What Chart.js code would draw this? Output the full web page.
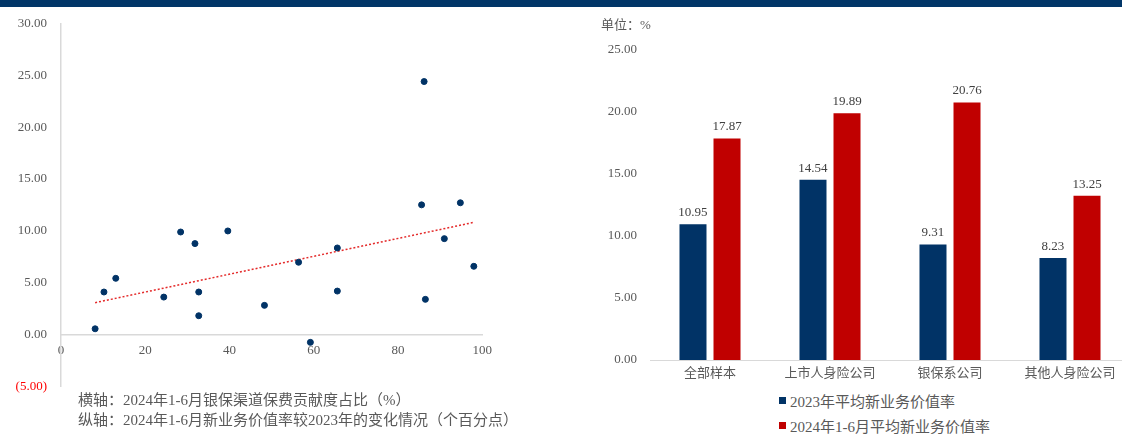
<!DOCTYPE html>
<html>
<head>
<meta charset="utf-8">
<script src="https://cdn.jsdelivr.net/npm/chart.js@4.4.1/dist/chart.umd.min.js"></script>
<style>
  html, body { margin: 0; padding: 0; width: 1122px; height: 434px; overflow: hidden; background: #ffffff; }
  #band { position: absolute; left: 0; top: 0; width: 1122px; height: 7px; background: #023668; z-index: 5; }
  #scatter { position: absolute; left: 0; top: 0; }
  #bars { position: absolute; left: 560px; top: 0; }
  .txt { position: absolute; font-family: "Liberation Serif", "Noto Sans CJK SC", serif; color: #595959; white-space: nowrap; }
  #caption { left: 78px; top: 390px; font-size: 15px; line-height: 20px; }
  #unit { left: 601px; top: 16px; font-size: 13px; line-height: 18px; }
  #legend { left: 779px; top: 388px; font-size: 15px; }
  #legend .row { display: flex; align-items: center; height: 25px; }
  #legend .sw { width: 7px; height: 7px; margin-right: 4px; }
</style>
</head>
<body>
<div id="band"></div>
<canvas id="scatter" width="500" height="408"></canvas>
<canvas id="bars" width="580" height="384"></canvas>
<div id="caption" class="txt">横轴：2024年1-6月银保渠道保费贡献度占比（%）<br>纵轴：2024年1-6月新业务价值率较2023年的变化情况（个百分点）</div>
<div id="unit" class="txt">单位：%</div>
<div id="legend" class="txt"></div>
<script>
// Scatter: bancassurance premium share (%) vs change in NBV margin (pp)
const bankShare = [86.2, 85.6, 94.8, 8.1, 10.2, 13.0, 24.4, 28.4, 31.8, 32.7,
                   32.7, 39.6, 48.3, 56.4, 59.2, 65.6, 65.6, 86.5, 91.0, 98.0];
const nbvChange = [24.4, 12.5, 12.7, 0.54, 4.09, 5.41, 3.6, 9.88, 8.76, 4.09,
                   1.8, 9.98, 2.8, 6.96, -0.77, 8.34, 4.18, 3.38, 9.24, 6.57];
const xTickStep = 20;
const yTickStep = 5;

// Bars: average NBV margin by company group
const categories = ['全部样本', '上市人身险公司', '银保系公司', '其他人身险公司'];
const nbv2023 = [10.95, 14.54, 9.31, 8.23];
const nbv2024H1 = [17.87, 19.89, 20.76, 13.25];
const seriesNames = ['2023年平均新业务价值率', '2024年1-6月平均新业务价值率'];

const NAVY = '#013366';
const RED = '#c00000';
const GRAY = '#595959';
const AXIS = '#d9d9d9';
const SERIF = '"Liberation Serif", "Noto Sans CJK SC", serif';

Chart.defaults.font.family = SERIF;
Chart.defaults.font.size = 13;
Chart.defaults.color = GRAY;

const points = bankShare.map((x, i) => ({ x, y: nbvChange[i] }));

// Least-squares trend line across the observed x range
function trendLine(xs, ys) {
  const n = xs.length;
  const mx = xs.reduce((a, b) => a + b, 0) / n;
  const my = ys.reduce((a, b) => a + b, 0) / n;
  let sxy = 0, sxx = 0;
  for (let i = 0; i < n; i++) {
    sxy += (xs[i] - mx) * (ys[i] - my);
    sxx += (xs[i] - mx) * (xs[i] - mx);
  }
  const slope = sxy / sxx;
  const x0 = Math.min(...xs), x1 = Math.max(...xs);
  return [{ x: x0, y: my + slope * (x0 - mx) }, { x: x1, y: my + slope * (x1 - mx) }];
}

new Chart(document.getElementById('scatter'), {
  type: 'scatter',
  data: {
    datasets: [
      {
        data: points,
        backgroundColor: NAVY,
        borderColor: NAVY,
        pointRadius: 3,
        pointHoverRadius: 3
      },
      {
        type: 'line',
        data: trendLine(bankShare, nbvChange),
        borderColor: '#e42a2a',
        borderWidth: 1.5,
        borderDash: [2, 2],
        pointRadius: 0,
        fill: false
      }
    ]
  },
  options: {
    responsive: false,
    animation: false,
    layout: { padding: { left: 0, top: 23.5, right: 17, bottom: 6 } },
    plugins: { legend: { display: false }, tooltip: { enabled: false } },
    scales: {
      x: {
        type: 'linear',
        position: { y: 0 },
        min: 0,
        max: 100,
        ticks: { stepSize: xTickStep, padding: 8, color: GRAY },
        grid: { display: false, drawTicks: false },
        border: { color: AXIS, width: 1.5 },
        afterFit: s => { s.height = 0; }
      },
      y: {
        min: -5,
        max: 30,
        ticks: {
          stepSize: yTickStep,
          padding: 14,
          color: c => (c.tick && c.tick.value < 0 ? '#ff0000' : GRAY),
          callback: v => (v < 0 ? '(' + Math.abs(v).toFixed(2) + ')' : v.toFixed(2))
        },
        grid: { display: false, drawTicks: false },
        border: { color: AXIS, width: 1.5 },
        afterFit: s => { s.width = 61; }
      }
    }
  }
});

// Value labels above each bar
const valueLabels = {
  id: 'valueLabels',
  afterDatasetsDraw(chart) {
    const { ctx } = chart;
    ctx.save();
    ctx.font = '13px ' + SERIF;
    ctx.fillStyle = '#404040';
    ctx.textAlign = 'center';
    ctx.textBaseline = 'middle';
    chart.data.datasets.forEach((ds, i) => {
      chart.getDatasetMeta(i).data.forEach((bar, j) => {
        ctx.fillText(ds.data[j].toFixed(2), bar.x, bar.y - 11.5);
      });
    });
    ctx.restore();
  }
};

const barChart = new Chart(document.getElementById('bars'), {
  type: 'bar',
  data: {
    labels: categories,
    datasets: [
      { label: seriesNames[0], data: nbv2023, backgroundColor: NAVY },
      { label: seriesNames[1], data: nbv2024H1, backgroundColor: RED }
    ]
  },
  options: {
    responsive: false,
    animation: false,
    layout: { padding: { left: 0, top: 50, right: 10, bottom: 0 } },
    datasets: { bar: { categoryPercentage: 0.567, barPercentage: 0.794 } },
    plugins: { legend: { display: false }, tooltip: { enabled: false } },
    scales: {
      x: {
        ticks: { padding: 4, color: GRAY, font: { family: '"Noto Sans CJK SC", sans-serif', size: 13 } },
        grid: { display: false, drawTicks: false },
        border: { color: AXIS, width: 1 },
        afterFit: s => { s.height = 24; }
      },
      y: {
        min: 0,
        max: 25,
        ticks: { stepSize: 5, padding: 13, color: GRAY, callback: v => v.toFixed(2) },
        grid: { display: false, drawTicks: false },
        border: { display: false },
        afterFit: s => { s.width = 90; }
      }
    }
  },
  plugins: [valueLabels]
});

// Vertical legend built from the bar datasets
const legend = document.getElementById('legend');
barChart.data.datasets.forEach(ds => {
  const row = document.createElement('div');
  row.className = 'row';
  const sw = document.createElement('span');
  sw.className = 'sw';
  sw.style.background = ds.backgroundColor;
  const label = document.createElement('span');
  label.textContent = ds.label;
  row.appendChild(sw);
  row.appendChild(label);
  legend.appendChild(row);
});
</script>
</body>
</html>
